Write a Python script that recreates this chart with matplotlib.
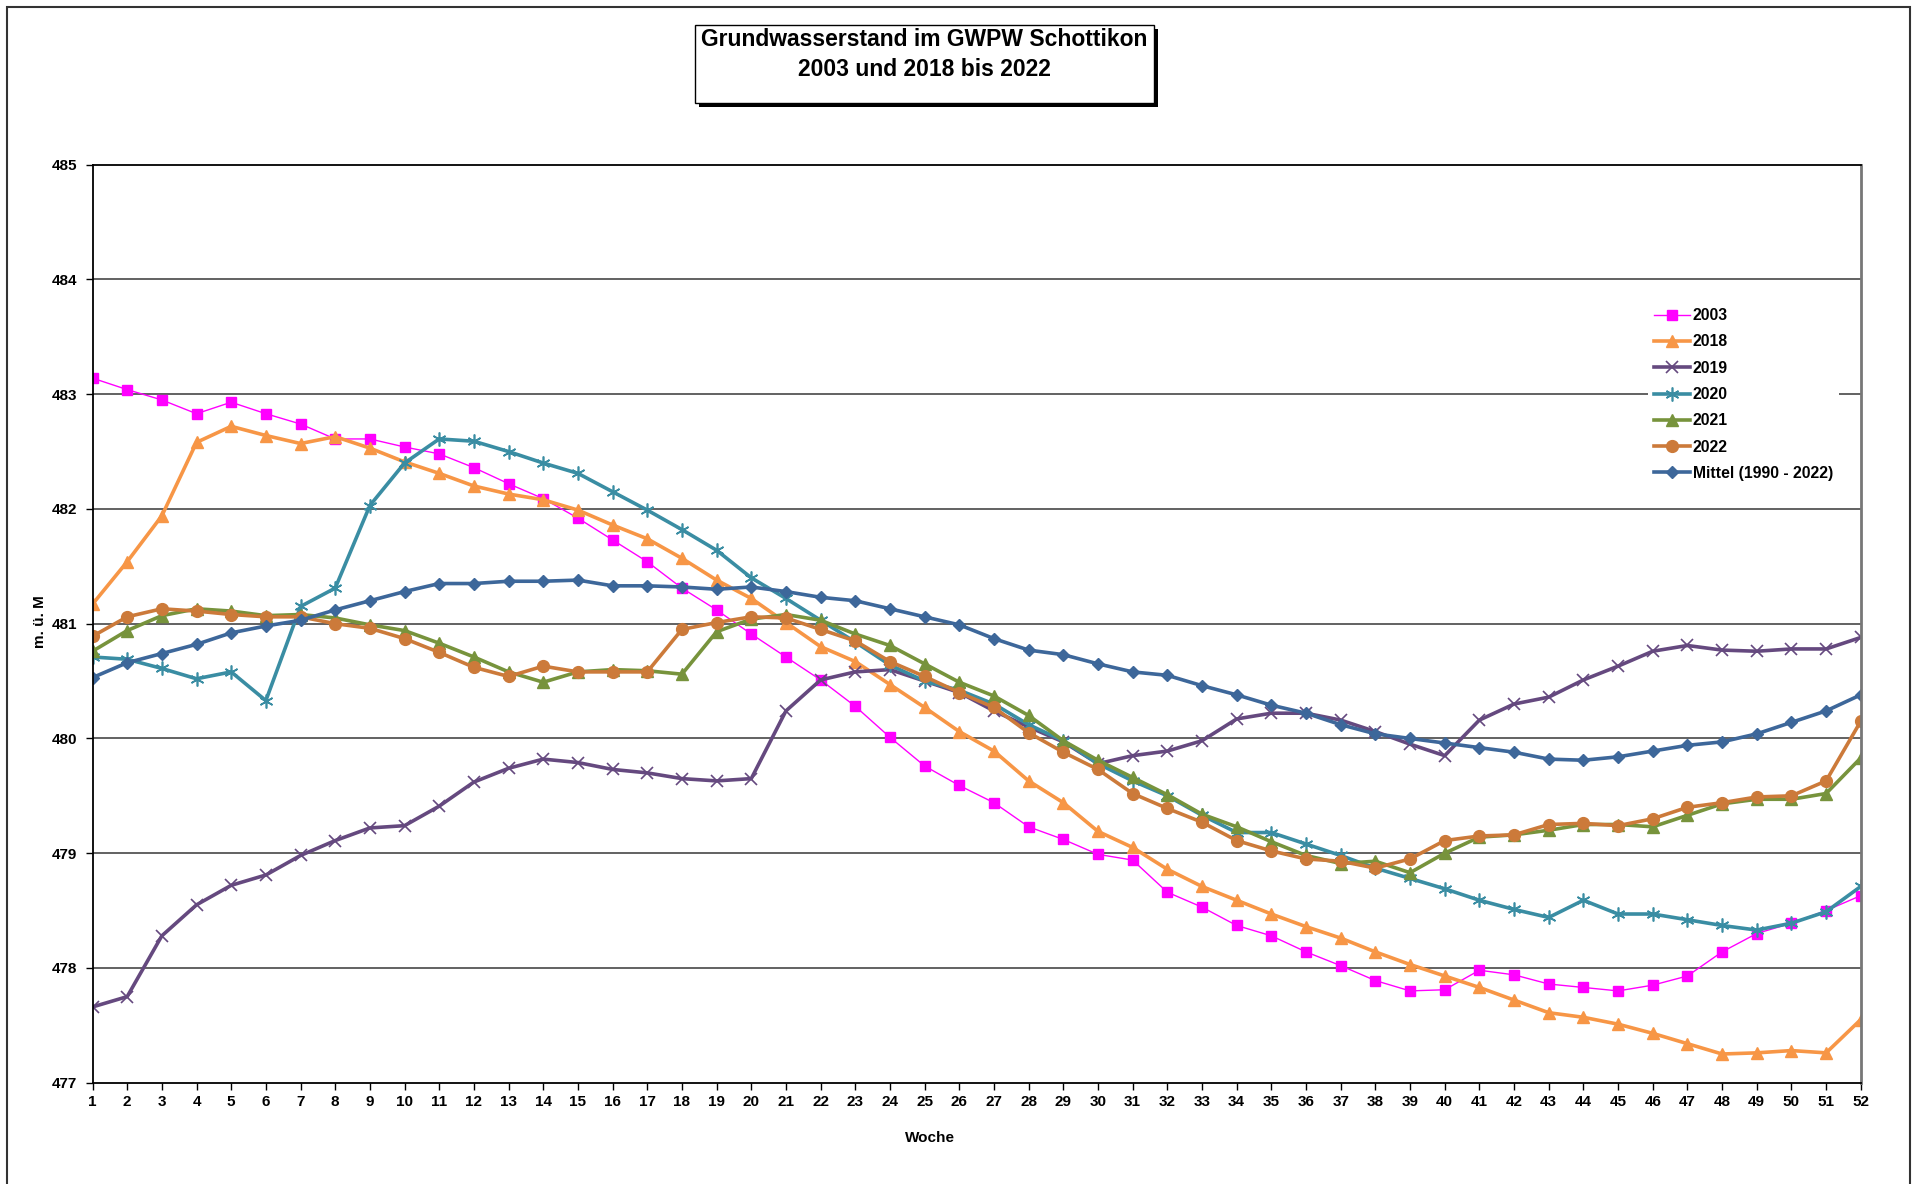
import matplotlib.pyplot as plt
from matplotlib.patches import Rectangle

plt.rcParams['font.family'] = ['Liberation Sans', 'DejaVu Sans']
plt.rcParams['font.weight'] = 'bold'

weeks = list(range(1, 53))

y2003 = [483.14, 483.04, 482.95, 482.83, 482.93, 482.83, 482.74, 482.61, 482.61, 482.54, 482.48, 482.36, 482.22, 482.09, 481.92,
         481.73, 481.54, 481.31, 481.12, 480.91, 480.71, 480.51, 480.28, 480.01, 479.76, 479.59, 479.44, 479.23, 479.12,
         478.99, 478.94, 478.66, 478.53, 478.37, 478.28, 478.14, 478.02, 477.89, 477.80, 477.81,
         477.98, 477.94, 477.86, 477.83, 477.80, 477.85, 477.93, 478.14, 478.30, 478.39, 478.50, 478.63]
y2018 = [481.17, 481.54, 481.94, 482.58, 482.72, 482.64, 482.57, 482.63, 482.53, 482.41, 482.31, 482.20, 482.13, 482.08, 481.99,
         481.86, 481.74, 481.57, 481.38, 481.22, 481.01, 480.80, 480.67, 480.47, 480.27, 480.06, 479.89, 479.63, 479.44,
         479.19, 479.05, 478.86, 478.71, 478.59, 478.47, 478.36, 478.26, 478.14, 478.03, 477.93,
         477.83, 477.72, 477.61, 477.57, 477.51, 477.43, 477.34, 477.25, 477.26, 477.28, 477.26, 477.55]
y2019 = [477.66, 477.75, 478.28, 478.55, 478.72, 478.81, 478.98, 479.11, 479.22, 479.24, 479.41, 479.62, 479.74, 479.82, 479.79,
         479.73, 479.70, 479.65, 479.63, 479.65, 480.24, 480.51, 480.58, 480.60, 480.50, 480.40, 480.24, 480.10, 479.97,
         479.78, 479.85, 479.89, 479.98, 480.17, 480.22, 480.22, 480.16, 480.06, 479.95, 479.85,
         480.16, 480.30, 480.36, 480.51, 480.63, 480.76, 480.81, 480.77, 480.76, 480.78, 480.78, 480.88]
y2020 = [480.71, 480.69, 480.61, 480.52, 480.58, 480.33, 481.15, 481.31, 482.03, 482.40, 482.61, 482.59, 482.50, 482.40, 482.31,
         482.15, 481.99, 481.82, 481.64, 481.40, 481.22, 481.03, 480.84, 480.64, 480.50, 480.42, 480.30, 480.12, 479.98,
         479.78, 479.63, 479.50, 479.33, 479.18, 479.18, 479.08, 478.98, 478.87, 478.78, 478.69,
         478.59, 478.51, 478.44, 478.59, 478.47, 478.47, 478.42, 478.37, 478.33, 478.39, 478.49, 478.71]
y2021 = [480.76, 480.94, 481.07, 481.13, 481.11, 481.07, 481.08, 481.05, 480.99, 480.94, 480.83, 480.71, 480.58, 480.49, 480.58,
         480.60, 480.59, 480.56, 480.93, 481.04, 481.08, 481.03, 480.91, 480.81, 480.65, 480.49, 480.37, 480.20, 479.98,
         479.81, 479.66, 479.51, 479.34, 479.23, 479.10, 478.98, 478.91, 478.93, 478.83, 479.00,
         479.14, 479.16, 479.20, 479.25, 479.25, 479.23, 479.33, 479.43, 479.47, 479.47, 479.52, 479.83]
y2022 = [480.89, 481.06, 481.13, 481.11, 481.08, 481.06, 481.06, 481.00, 480.96, 480.87, 480.75, 480.62, 480.54, 480.63, 480.58,
         480.58, 480.58, 480.95, 481.01, 481.06, 481.05, 480.95, 480.85, 480.67, 480.54, 480.40, 480.27, 480.05, 479.88,
         479.73, 479.52, 479.39, 479.27, 479.11, 479.02, 478.95, 478.93, 478.87, 478.95, 479.11,
         479.15, 479.16, 479.25, 479.26, 479.24, 479.30, 479.40, 479.44, 479.49, 479.50, 479.63, 480.15]
mittel = [480.53, 480.66, 480.74, 480.82, 480.92, 480.98, 481.03, 481.12, 481.20, 481.28, 481.35, 481.35, 481.37, 481.37, 481.38,
          481.33, 481.33, 481.32, 481.30, 481.32, 481.28, 481.23, 481.20, 481.13, 481.06, 480.99, 480.87, 480.77, 480.73,
          480.65, 480.58, 480.55, 480.46, 480.38, 480.29, 480.22, 480.12, 480.04, 480.00, 479.96,
          479.92, 479.88, 479.82, 479.81, 479.84, 479.89, 479.94, 479.97, 480.04, 480.14, 480.24, 480.38]

fig = plt.figure(figsize=(19.12, 11.84), dpi=100)
ax = fig.add_axes([0.04838, 0.08556, 0.92482, 0.77534])

# outer chart frame
fig.patches.append(Rectangle((7 / 1912, -0.01), 1903 / 1912, 1 - 7 / 1184 + 0.01,
                             transform=fig.transFigure, fill=False,
                             edgecolor='#333333', linewidth=1.5))

ax.plot(weeks, y2003, color='#FF00FF', lw=1.0, marker='s', ms=6.5, label='2003')
ax.plot(weeks, y2018, color='#F79646', lw=2.6, marker='^', ms=9, label='2018')
ax.plot(weeks, y2019, color='#65497F', lw=2.6, marker='x', ms=8, mew=1.2, label='2019')
ax.plot(weeks, y2020, color='#3A8DA3', lw=2.6, marker=(6, 2, 0), ms=10, mew=1.2, label='2020')
ax.plot(weeks, y2021, color='#77933C', lw=2.6, marker='^', ms=9, label='2021')
ax.plot(weeks, y2022, color='#CC7A3A', lw=2.6, marker='o', ms=8.5, label='2022')
ax.plot(weeks, mittel, color='#3D679A', lw=2.6, marker='D', ms=6.5, label='Mittel (1990 - 2022)')

ax.set_xlim(1, 52)
ax.set_ylim(477, 485)
ax.set_xticks(weeks)
ax.set_yticks(range(477, 486))
ax.tick_params(axis='both', direction='out', length=5, labelsize=11, width=1)
ax.tick_params(axis='y', pad=6)
for lbl in ax.get_xticklabels() + ax.get_yticklabels():
    lbl.set_fontweight('bold')
for yv in range(478, 485):
    ax.axhline(yv, color='#555555', lw=1.3, zorder=0)
for s in ['left', 'bottom', 'top']:
    ax.spines[s].set_color('black')
    ax.spines[s].set_linewidth(1.3)
ax.spines['right'].set_color('#777777')
ax.spines['right'].set_linewidth(2)

fig.text(930 / 1912, 1 - 1138 / 1184, 'Woche', ha='center', va='center', fontsize=11, fontweight='bold')
fig.text(40 / 1912, 1 - 622 / 1184, 'm. ü. M', ha='center', va='center', rotation=90,
         fontsize=11, fontweight='bold')

leg = ax.legend(loc='upper left', bbox_to_anchor=(1640 / 1912, 1 - 294 / 1184),
                bbox_transform=fig.transFigure, frameon=True, fancybox=False,
                edgecolor='none', facecolor='white', framealpha=1,
                prop={'size': 11.3, 'weight': 'bold'}, handlelength=2.3,
                handletextpad=0.15, labelspacing=0.72, borderpad=0.4)

# title box with shadow
fig.patches.append(Rectangle((699 / 1912, 1 - 107 / 1184), 459 / 1912, 78 / 1184,
                             transform=fig.transFigure, facecolor='black', edgecolor='none'))
fig.patches.append(Rectangle((695 / 1912, 1 - 103 / 1184), 459 / 1912, 78 / 1184,
                             transform=fig.transFigure, facecolor='white', edgecolor='black', lw=1))
fig.text(924.5 / 1912, 1 - 40 / 1184, 'Grundwasserstand im GWPW Schottikon', ha='center', va='center',
         fontsize=16.5, fontweight='bold')
fig.text(924.5 / 1912, 1 - 69 / 1184, '2003 und 2018 bis 2022', ha='center', va='center',
         fontsize=16.5, fontweight='bold')

fig.savefig('out.png', dpi=100)
